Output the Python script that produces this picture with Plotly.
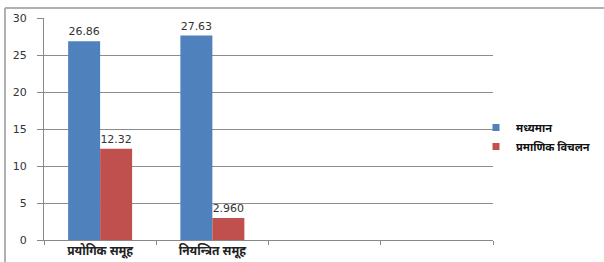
import plotly.graph_objects as go

categories = ["प्रयोगिक समूह", "नियन्त्रित समूह", " ", "  "]
mean_vals = [26.86, 27.63, None, None]
sd_vals = [12.32, 2.96, None, None]
mean_text = ["26.86", "27.63", "", ""]
sd_text = ["12.32", "2.960", "", ""]
series_names = ["मध्यमान", "प्रमाणिक विचलन"]
series_colors = ["#4F81BD", "#C0504D"]
y_ticks = [0, 5, 10, 15, 20, 25, 30]

W, H = 604, 262
L, R, T, B = 44, 111, 18, 22
pw = W - L - R
ph = H - T - B

lab_font = dict(family="DejaVu Sans", size=11, color="#333")

fig = go.Figure()
for vals, txt, name, col in [(mean_vals, mean_text, series_names[0], series_colors[0]),
                             (sd_vals, sd_text, series_names[1], series_colors[1])]:
    fig.add_trace(go.Bar(x=categories, y=vals, name=name, showlegend=False,
                         marker=dict(color=col, line=dict(width=0)),
                         text=txt, textposition="outside", textfont=lab_font,
                         cliponaxis=False))
# legend entries with small square markers
for name, col in zip(series_names, series_colors):
    fig.add_trace(go.Scatter(x=[None], y=[None], mode="markers", name=name,
                             marker=dict(symbol="square", size=7, color=col)))

# outer chart border (top and left edges visible in the frame)
bx0 = (5 - L) / pw
by1 = (H - B - 8) / ph
fig.add_shape(type="line", xref="paper", yref="paper", x0=bx0, x1=(W - L) / pw, y0=by1, y1=by1,
              line=dict(color="#B0B0B0", width=2), layer="above")
fig.add_shape(type="line", xref="paper", yref="paper", x0=bx0, x1=bx0, y0=by1, y1=-B / ph,
              line=dict(color="#B0B0B0", width=2), layer="above")

fig.update_layout(
    width=W, height=H,
    margin=dict(l=L, r=R, t=T, b=B, autoexpand=False),
    paper_bgcolor="white", plot_bgcolor="white",
    barmode="group", bargap=0.43, bargroupgap=0,
    showlegend=True,
    legend=dict(x=(476 - L) / pw, xanchor="left", y=(H - B - 137) / ph, yanchor="middle",
                font=dict(family="Noto Sans", size=11, color="#111", weight="bold"),
                itemwidth=30, tracegroupgap=0, bgcolor="rgba(0,0,0,0)"),
)
fig.update_xaxes(type="category", categoryorder="array", categoryarray=categories,
                 showline=True, linecolor="#888", linewidth=1, automargin=False,
                 ticks="outside", tickson="boundaries", ticklen=4, tickcolor="#888",
                 tickfont=dict(family="Noto Sans", size=12, color="#222", weight="bold"),
                 showgrid=False)
fig.update_yaxes(range=[0, 30], tickvals=y_ticks, showline=True, linecolor="#888", linewidth=1,
                 ticks="outside", ticklen=6, tickcolor="#888", automargin=False,
                 ticklabelstandoff=8,
                 gridcolor="#8C8C8C", gridwidth=1,
                 tickfont=dict(family="DejaVu Sans", size=11, color="#333"),
                 zeroline=False)

fig.write_html("out.html", config={"displayModeBar": False},
               post_script="document.body.style.margin='0';document.body.style.overflow='hidden';")
